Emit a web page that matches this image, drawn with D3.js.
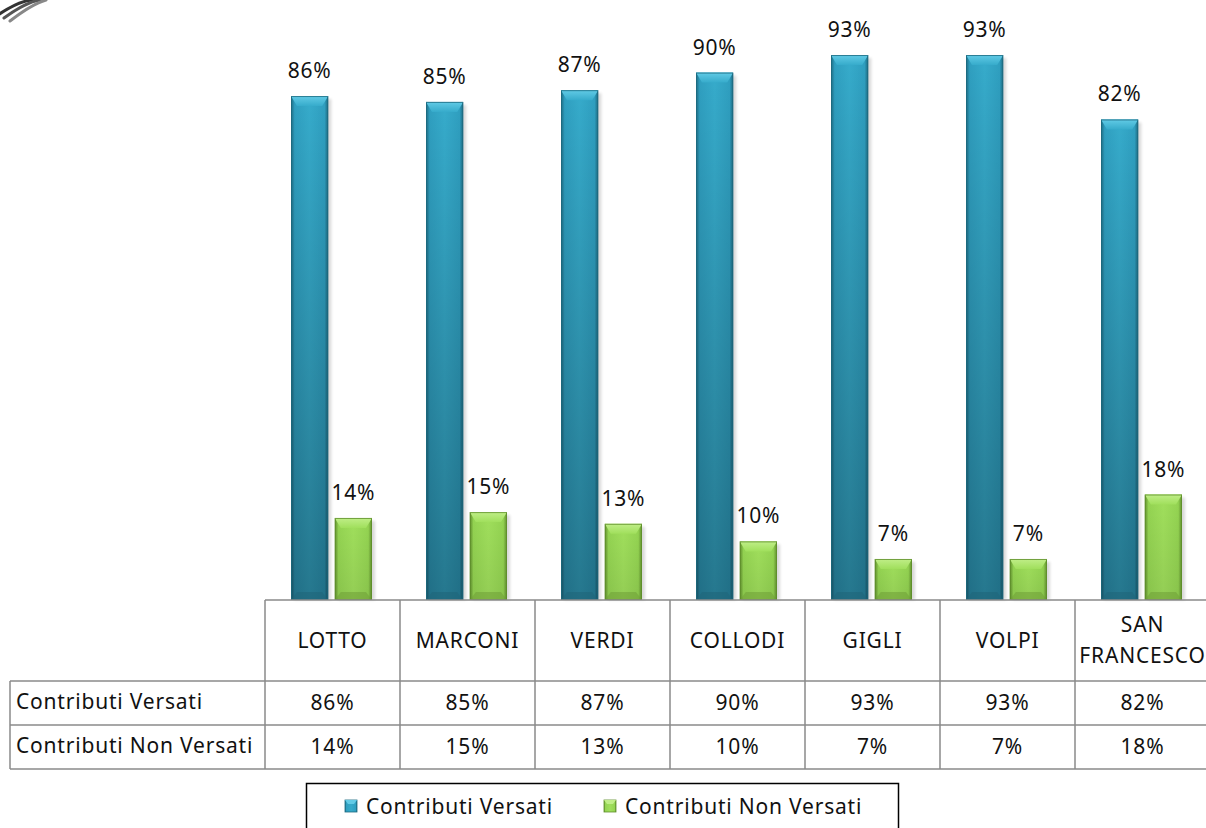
<!DOCTYPE html>
<html>
<head>
<meta charset="utf-8">
<script src="https://cdn.jsdelivr.net/npm/d3@7"></script>
<style>
  body { margin: 0; background: #fff; }
  svg { display: block; }
  text { font-family: "Noto Sans", "Open Sans", sans-serif; fill: #111; letter-spacing: 0.8px; }
</style>
</head>
<body>
<svg width="1206" height="828"></svg>
<script>
var categories = ["LOTTO", "MARCONI", "VERDI", "COLLODI", "GIGLI", "VOLPI", "SAN FRANCESCO"];
var seriesNames = ["Contributi Versati", "Contributi Non Versati"];
var versati = [86, 85, 87, 90, 93, 93, 82];
var nonVersati = [14, 15, 13, 10, 7, 7, 18];

var svg = d3.select("svg");
var baseY = 600, rowH = [81, 44, 44], tableLeft = 10, labelRight = 265;
var fs = 21;

var x = d3.scaleBand().domain(categories).range([labelRight, 1210]);
var xs = d3.scaleBand().domain(seriesNames).range([26, 107]).paddingInner(0.15);
var y = d3.scaleLinear().domain([0, 100]).range([baseY, 14]);

var colors = {
  "Contributi Versati": {dark: "#1d6a80", mid: "#2f9fc0", light: "#36abcb", top: "#62cbe6", bot: "#1f6579", shade: 0.3},
  "Contributi Non Versati": {dark: "#5f8e2c", mid: "#94d452", light: "#a0df5c", top: "#c0ee88", bot: "#6f9f36", shade: 0.08}
};

var defs = svg.append("defs");
seriesNames.forEach(function (s, i) {
  var c = colors[s];
  var g = defs.append("linearGradient").attr("id", "side" + i).attr("x1", 0).attr("x2", 1).attr("y1", 0).attr("y2", 0);
  g.append("stop").attr("offset", "0%").attr("stop-color", c.dark);
  g.append("stop").attr("offset", "10%").attr("stop-color", c.mid);
  g.append("stop").attr("offset", "50%").attr("stop-color", c.light);
  g.append("stop").attr("offset", "90%").attr("stop-color", c.mid);
  g.append("stop").attr("offset", "100%").attr("stop-color", c.dark);
  var t = defs.append("linearGradient").attr("id", "top" + i).attr("x1", 0).attr("x2", 0).attr("y1", 0).attr("y2", 1);
  t.append("stop").attr("offset", "0%").attr("stop-color", c.top);
  t.append("stop").attr("offset", "100%").attr("stop-color", c.light);
  var sh = defs.append("linearGradient").attr("id", "shade" + i).attr("x1", 0).attr("x2", 0).attr("y1", 0).attr("y2", 1);
  sh.append("stop").attr("offset", "0%").attr("stop-color", "#000").attr("stop-opacity", 0);
  sh.append("stop").attr("offset", "100%").attr("stop-color", "#000").attr("stop-opacity", c.shade);
});
var blur = defs.append("filter").attr("id", "soft");
blur.append("feGaussianBlur").attr("stdDeviation", 1.5);

var data = [];
categories.forEach(function (cat, i) {
  data.push({cat: cat, s: seriesNames[0], si: 0, v: versati[i]});
  data.push({cat: cat, s: seriesNames[1], si: 1, v: nonVersati[i]});
});

// decorative scribble top-left
var scrib = svg.append("g").attr("fill", "none").attr("stroke-linecap", "round");
[[0, 4, "#333"], [1, 10, "#555"], [2, 16, "#888"]].forEach(function (a) {
  scrib.append("path").attr("d", "M" + (a[1] - 6) + "," + (15 + a[0] * 3) + " Q" + (16 + a[1]) + "," + (a[0] * 2) + " " + (30 + a[1]) + ",0")
    .attr("stroke", a[2]).attr("stroke-width", 3);
});

var bars = svg.append("g").selectAll("g").data(data).enter().append("g")
  .attr("transform", function (d) { return "translate(" + (x(d.cat) + xs(d.s)) + ",0)"; });
var bw = xs.bandwidth(), bev = 10;

// shadow
bars.append("rect")
  .attr("x", 3).attr("y", function (d) { return y(d.v) + 3; })
  .attr("width", bw).attr("height", function (d) { return baseY - y(d.v) - 3; })
  .attr("fill", "#000").attr("opacity", 0.15).attr("filter", "url(#soft)");
bars.append("rect")
  .attr("x", 0).attr("y", function (d) { return y(d.v); })
  .attr("width", bw).attr("height", function (d) { return baseY - y(d.v); })
  .attr("fill", function (d) { return "url(#side" + d.si + ")"; });
bars.append("rect")
  .attr("x", 0).attr("y", function (d) { return y(d.v); })
  .attr("width", bw).attr("height", function (d) { return baseY - y(d.v); })
  .attr("fill", function (d) { return "url(#shade" + d.si + ")"; });
// top bevel
bars.append("path")
  .attr("d", function (d) {
    var t = y(d.v);
    return "M0," + t + "H" + bw + "L" + (bw - 6) + "," + (t + bev) + "H6Z";
  })
  .attr("fill", function (d) { return "url(#top" + d.si + ")"; });
// bottom bevel
bars.append("path")
  .attr("d", function (d) {
    return "M0," + baseY + "H" + bw + "L" + (bw - 6) + "," + (baseY - 8) + "H6Z";
  })
  .attr("fill", function (d) { return colors[d.s].bot; }).attr("opacity", 0.55);
bars.append("rect")
  .attr("x", 0.5).attr("y", function (d) { return y(d.v) + 0.5; })
  .attr("width", bw - 1).attr("height", function (d) { return baseY - y(d.v) - 1; })
  .attr("fill", "none").attr("stroke", function (d) { return colors[d.s].dark; }).attr("stroke-width", 1).attr("opacity", 0.8);

// value labels
bars.append("text")
  .attr("x", bw / 2).attr("y", function (d) { return y(d.v) - 18; })
  .attr("text-anchor", "middle").attr("font-size", fs)
  .text(function (d) { return d.v + "%"; });

// data table
var lines = svg.append("g").attr("stroke", "#8a8a8a").attr("stroke-width", 1.5);
var r1 = baseY + rowH[0], r2 = r1 + rowH[1], r3 = r2 + rowH[2];
lines.append("line").attr("x1", labelRight).attr("x2", 1206).attr("y1", baseY).attr("y2", baseY);
[r1, r2, r3].forEach(function (yy) {
  lines.append("line").attr("x1", tableLeft).attr("x2", 1206).attr("y1", yy).attr("y2", yy);
});
lines.append("line").attr("x1", tableLeft).attr("x2", tableLeft).attr("y1", r1).attr("y2", r3);
categories.forEach(function (cat) {
  lines.append("line").attr("x1", x(cat)).attr("x2", x(cat)).attr("y1", baseY).attr("y2", r3);
});

var tbl = svg.append("g").attr("font-size", fs);
categories.forEach(function (cat, i) {
  var cx = x(cat) + x.bandwidth() / 2;
  var words = cat.split(" ");
  var t = tbl.append("text").attr("x", cx).attr("text-anchor", "middle");
  if (words.length > 1) {
    t.append("tspan").attr("x", cx).attr("y", baseY + 32).text(words[0]);
    t.append("tspan").attr("x", cx).attr("y", baseY + 63).text(words.slice(1).join(" "));
  } else {
    t.attr("y", baseY + 48).text(cat);
  }
  tbl.append("text").attr("x", cx).attr("y", r1 + 29).attr("text-anchor", "middle").text(versati[i] + "%");
  tbl.append("text").attr("x", cx).attr("y", r2 + 29).attr("text-anchor", "middle").text(nonVersati[i] + "%");
});
tbl.append("text").attr("x", tableLeft + 6).attr("y", r1 + 28).text(seriesNames[0]);
tbl.append("text").attr("x", tableLeft + 6).attr("y", r2 + 28).text(seriesNames[1]);

// legend
var leg = svg.append("g");
leg.append("rect").attr("x", 306.5).attr("y", 783.5).attr("width", 592).attr("height", 60)
  .attr("fill", "#fff").attr("stroke", "#000").attr("stroke-width", 1.5);
var legX = [345, 604];
seriesNames.forEach(function (s, i) {
  var g = leg.append("g").attr("transform", "translate(" + legX[i] + ",800)");
  g.append("rect").attr("width", 12).attr("height", 12).attr("fill", "url(#side" + i + ")").attr("stroke", colors[s].dark).attr("stroke-width", 0.8);
  g.append("path").attr("d", "M0,0H12L9,4H3Z").attr("fill", colors[s].top);
  g.append("text").attr("x", 21).attr("y", 14).attr("font-size", fs).text(s);
});
</script>
</body>
</html>
